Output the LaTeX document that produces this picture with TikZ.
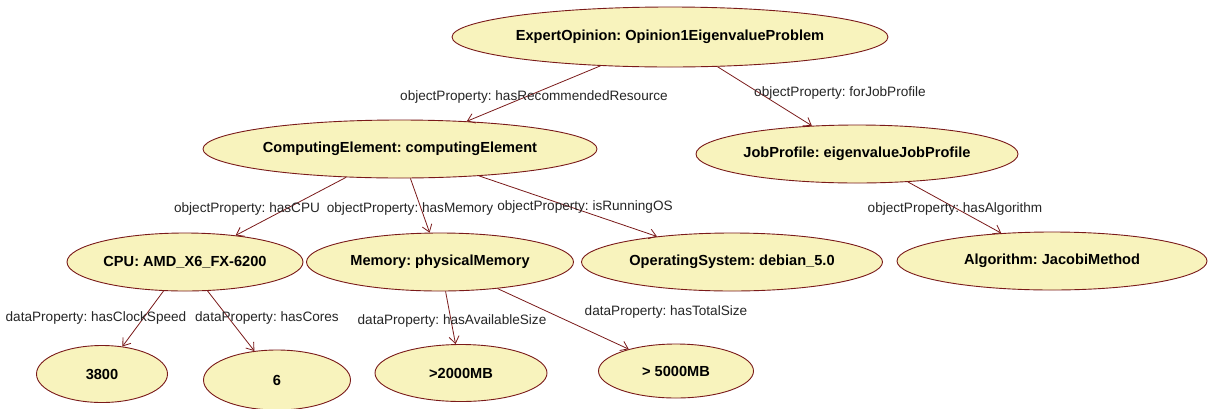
\documentclass[tikz,border=0pt]{standalone}
\usepackage{fontspec}
\setmainfont{Liberation Sans}
\usetikzlibrary{shapes.geometric,arrows.meta}
\definecolor{fillc}{RGB}{248,243,189}
\definecolor{edgec}{RGB}{122,26,26}
\begin{document}
\frenchspacing
\begin{tikzpicture}[x=1pt,y=-1pt,
  ent/.style={ellipse, draw=edgec, fill=fillc, line width=0.9pt, inner sep=0pt, font=\bfseries\fontsize{14.6}{16}\selectfont},
  lbl/.style={font=\fontsize{13.6}{15}\selectfont, inner sep=0pt, text=black!85},
  rel/.style={draw=edgec, line width=0.8pt, -{Straight Barb[length=7pt,width=10pt]}}]
\useasboundingbox (0,0) rectangle (1209,408);
\fill[white] (0,0) rectangle (1209,408);
% entities
\node[ent, minimum width=434pt, minimum height=60pt] (eo) at (670,37) {ExpertOpinion: Opinion1EigenvalueProblem};
\node[ent, minimum width=394pt, minimum height=58pt] (ce) at (400,149) {ComputingElement: computingElement};
\node[ent, minimum width=322pt, minimum height=58pt] (jp) at (857,154) {JobProfile: eigenvalueJobProfile};
\node[ent, minimum width=236pt, minimum height=58pt] (cpu) at (185,262) {CPU: AMD\_X6\_FX-6200};
\node[ent, minimum width=267pt, minimum height=58pt] (mem) at (440,262) {Memory: physicalMemory};
\node[ent, minimum width=301pt, minimum height=58pt] (os) at (732,262) {OperatingSystem: debian\_5.0};
\node[ent, minimum width=310pt, minimum height=58pt] (alg) at (1052,261) {Algorithm: JacobiMethod};
\node[ent, minimum width=131pt, minimum height=57pt] (v1) at (102,374) {3800};
\node[ent, minimum width=147pt, minimum height=60pt] (v2) at (277,380) {6};
\node[ent, minimum width=172pt, minimum height=57pt] (v3) at (461,373) {>2000MB};
\node[ent, minimum width=155pt, minimum height=54pt] (v4) at (676,371) {> 5000MB};
% edges
\draw[rel] (eo) -- (ce);
\draw[rel] (eo) -- (jp);
\draw[rel] (ce) -- (cpu);
\draw[rel] (ce) -- (mem);
\draw[rel] (ce) -- (os);
\draw[rel] (jp) -- (alg);
\draw[rel] (cpu) -- (v1);
\draw[rel] (cpu) -- (v2);
\draw[rel] (mem) -- (v3);
\draw[rel] (mem) -- (v4);
% labels
\node[lbl] (l1) at (534,97) {objectProperty: hasRecommendedResource};
\node[lbl] (l2) at (840,93) {objectProperty: forJobProfile};
\node[lbl] (l3) at (247,209) {objectProperty: hasCPU};
\node[lbl] (l4) at (410,209) {objectProperty: hasMemory};
\node[lbl] (l5) at (585,207) {objectProperty: isRunningOS};
\node[lbl] (l6) at (955,209) {objectProperty: hasAlgorithm};
\node[lbl] (l7) at (96,318) {dataProperty: hasClockSpeed};
\node[lbl] (l8) at (267,318) {dataProperty: hasCores};
\node[lbl] (l9) at (452,321) {dataProperty: hasAvailableSize};
\node[lbl] (l10) at (666,312) {dataProperty: hasTotalSize};
\end{tikzpicture}
\end{document}
